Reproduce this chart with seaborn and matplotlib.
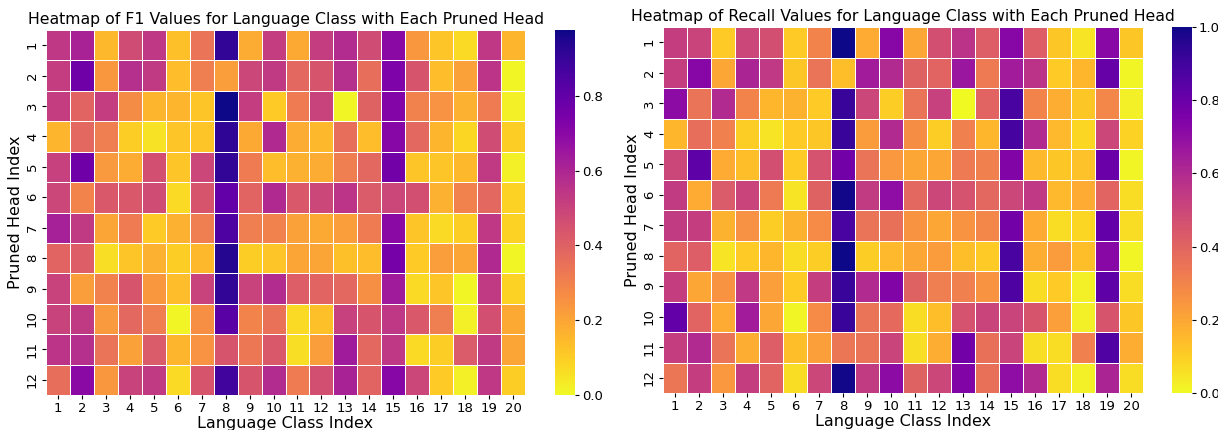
import numpy as np
import pandas as pd
import matplotlib
matplotlib.use("Agg")
import matplotlib.pyplot as plt
import seaborn as sns

heads = list(range(1, 13))
classes = list(range(1, 21))

f1_values = [
    [0.54, 0.61, 0.15, 0.47, 0.54, 0.13, 0.34, 0.91, 0.18, 0.52, 0.19, 0.52, 0.58, 0.47, 0.70, 0.24, 0.12, 0.07, 0.54, 0.16],
    [0.52, 0.77, 0.24, 0.57, 0.53, 0.14, 0.31, 0.22, 0.49, 0.53, 0.38, 0.44, 0.57, 0.36, 0.73, 0.44, 0.14, 0.21, 0.55, 0.01],
    [0.52, 0.39, 0.52, 0.27, 0.16, 0.16, 0.12, 0.976, 0.52, 0.11, 0.32, 0.50, 0.01, 0.40, 0.72, 0.30, 0.25, 0.17, 0.32, 0.02],
    [0.16, 0.38, 0.31, 0.10, 0.05, 0.12, 0.12, 0.92, 0.19, 0.59, 0.18, 0.15, 0.36, 0.14, 0.71, 0.38, 0.16, 0.08, 0.47, 0.10],
    [0.51, 0.77, 0.23, 0.18, 0.46, 0.12, 0.49, 0.91, 0.32, 0.14, 0.17, 0.18, 0.31, 0.38, 0.76, 0.12, 0.12, 0.15, 0.53, 0.02],
    [0.49, 0.29, 0.43, 0.43, 0.47, 0.07, 0.44, 0.80, 0.39, 0.59, 0.43, 0.49, 0.55, 0.42, 0.49, 0.46, 0.17, 0.30, 0.38, 0.09],
    [0.62, 0.53, 0.20, 0.32, 0.11, 0.17, 0.31, 0.85, 0.31, 0.30, 0.21, 0.19, 0.22, 0.32, 0.70, 0.12, 0.07, 0.10, 0.54, 0.09],
    [0.39, 0.41, 0.06, 0.12, 0.17, 0.10, 0.15, 0.94, 0.10, 0.12, 0.20, 0.20, 0.13, 0.14, 0.75, 0.11, 0.22, 0.20, 0.59, 0.01],
    [0.50, 0.22, 0.30, 0.44, 0.24, 0.14, 0.50, 0.91, 0.50, 0.58, 0.41, 0.39, 0.38, 0.26, 0.64, 0.07, 0.12, 0.01, 0.53, 0.09],
    [0.50, 0.53, 0.23, 0.38, 0.31, 0.01, 0.26, 0.82, 0.29, 0.35, 0.07, 0.13, 0.51, 0.44, 0.54, 0.43, 0.31, 0.02, 0.46, 0.19],
    [0.55, 0.57, 0.34, 0.21, 0.42, 0.16, 0.25, 0.44, 0.33, 0.43, 0.06, 0.22, 0.64, 0.38, 0.54, 0.07, 0.10, 0.42, 0.53, 0.20],
    [0.36, 0.70, 0.24, 0.50, 0.53, 0.07, 0.44, 0.88, 0.44, 0.58, 0.32, 0.46, 0.61, 0.39, 0.71, 0.49, 0.11, 0.02, 0.54, 0.10],
]

recall_values = [
    [0.53, 0.51, 0.11, 0.50, 0.47, 0.11, 0.30, 1.00, 0.19, 0.73, 0.20, 0.47, 0.57, 0.42, 0.73, 0.42, 0.12, 0.05, 0.72, 0.12],
    [0.53, 0.73, 0.20, 0.62, 0.55, 0.12, 0.35, 0.14, 0.65, 0.60, 0.41, 0.40, 0.67, 0.33, 0.65, 0.57, 0.11, 0.16, 0.81, 0.01],
    [0.71, 0.35, 0.60, 0.30, 0.16, 0.17, 0.11, 0.92, 0.50, 0.10, 0.35, 0.52, 0.00, 0.40, 0.88, 0.30, 0.18, 0.12, 0.29, 0.02],
    [0.16, 0.37, 0.31, 0.10, 0.05, 0.11, 0.12, 0.92, 0.23, 0.60, 0.27, 0.10, 0.31, 0.16, 0.89, 0.60, 0.15, 0.08, 0.50, 0.09],
    [0.50, 0.83, 0.19, 0.14, 0.47, 0.11, 0.46, 0.78, 0.35, 0.24, 0.20, 0.20, 0.33, 0.31, 0.74, 0.15, 0.12, 0.13, 0.80, 0.01],
    [0.54, 0.19, 0.43, 0.51, 0.33, 0.05, 0.41, 0.99, 0.54, 0.70, 0.39, 0.50, 0.46, 0.39, 0.50, 0.55, 0.15, 0.19, 0.40, 0.07],
    [0.54, 0.53, 0.17, 0.26, 0.10, 0.17, 0.28, 0.88, 0.35, 0.36, 0.25, 0.20, 0.25, 0.29, 0.78, 0.19, 0.07, 0.08, 0.82, 0.07],
    [0.40, 0.42, 0.05, 0.11, 0.16, 0.07, 0.10, 1.00, 0.10, 0.15, 0.20, 0.23, 0.14, 0.11, 0.88, 0.18, 0.23, 0.14, 0.72, 0.01],
    [0.53, 0.20, 0.25, 0.55, 0.22, 0.11, 0.53, 0.92, 0.60, 0.74, 0.41, 0.32, 0.31, 0.25, 0.87, 0.07, 0.11, 0.02, 0.83, 0.07],
    [0.82, 0.40, 0.19, 0.65, 0.20, 0.01, 0.28, 0.92, 0.35, 0.38, 0.07, 0.14, 0.46, 0.51, 0.51, 0.45, 0.22, 0.02, 0.45, 0.12],
    [0.53, 0.60, 0.35, 0.18, 0.42, 0.14, 0.22, 0.34, 0.35, 0.51, 0.06, 0.18, 0.78, 0.36, 0.51, 0.06, 0.07, 0.31, 0.86, 0.18],
    [0.34, 0.53, 0.24, 0.53, 0.40, 0.07, 0.50, 0.99, 0.54, 0.71, 0.41, 0.50, 0.74, 0.36, 0.70, 0.60, 0.07, 0.02, 0.62, 0.07],
]

df_f1 = pd.DataFrame(f1_values, index=heads, columns=classes)
df_recall = pd.DataFrame(recall_values, index=heads, columns=classes)

W, H = 1218, 430
fig = plt.figure(figsize=(W / 100, H / 100), dpi=100)

def frac(x0, y0, x1, y1):
    return [x0 / W, 1 - y1 / H, (x1 - x0) / W, (y1 - y0) / H]

ax1 = fig.add_axes(frac(46, 30, 525, 395))
cax1 = fig.add_axes(frac(555, 30, 575, 395))
ax2 = fig.add_axes(frac(663, 27, 1143, 393))
cax2 = fig.add_axes(frac(1172, 27, 1192, 393))

sns.heatmap(df_f1, ax=ax1, cbar_ax=cax1, cmap="plasma_r", vmin=0,
            linewidths=0.7, linecolor="white")
sns.heatmap(df_recall, ax=ax2, cbar_ax=cax2, cmap="plasma_r", vmin=0, vmax=1,
            linewidths=0.7, linecolor="white")

ax1.set_title("Heatmap of F1 Values for Language Class with Each Pruned Head", fontsize=11.3, pad=4)
ax2.set_title("Heatmap of Recall Values for Language Class with Each Pruned Head", fontsize=11.3, pad=4)
for ax in (ax1, ax2):
    ax.set_xlabel("Language Class Index", fontsize=11.5, labelpad=1)
    ax.set_ylabel("Pruned Head Index", fontsize=11.5, labelpad=2)
    ax.tick_params(axis="both", labelsize=9.5, length=3, pad=2)
    ax.tick_params(axis="y", labelrotation=90)
    for lab in ax.get_yticklabels():
        lab.set_va("center")
for cax in (cax1, cax2):
    cax.tick_params(labelsize=9.5, length=3, pad=2)

fig.savefig("out.png", dpi=100)
